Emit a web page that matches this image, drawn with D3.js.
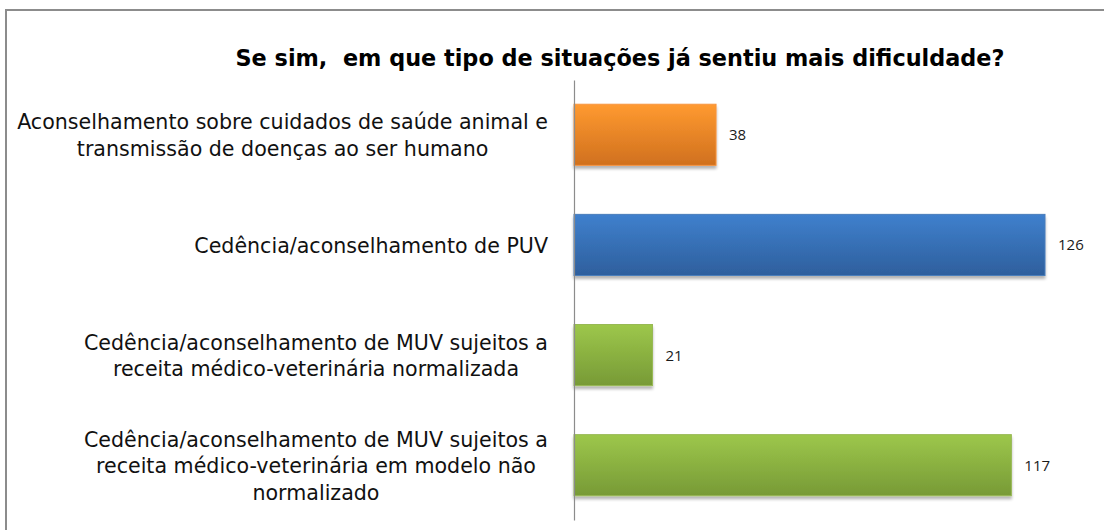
<!DOCTYPE html>
<html><head><meta charset="utf-8">
<script src="https://cdn.jsdelivr.net/npm/d3@7"></script>
<style>
html,body{margin:0;padding:0;background:#fff;}
svg{display:block;}
text{font-family:"DejaVu Sans",sans-serif;}
</style></head>
<body>
<svg id="chart" width="1104" height="530"></svg>
<script>
const titleText = "Se sim,\u00a0 em que tipo de situações já sentiu mais dificuldade?";
const categories = [
  ["Aconselhamento sobre cuidados de saúde animal e", "transmissão de doenças ao ser humano"],
  ["Cedência/aconselhamento de PUV"],
  ["Cedência/aconselhamento de MUV sujeitos a", "receita médico-veterinária normalizada"],
  ["Cedência/aconselhamento de MUV sujeitos a", "receita médico-veterinária em modelo não", "normalizado"]
];
const values = [38, 126, 21, 117];
const colorsTop = ["#FF9A30", "#3F80CD", "#9DC74B"  , "#9DC74B"];
const colorsBot = ["#D0701E", "#2E5F9D", "#779A36", "#779A36"];
const colorsEdge = ["#F7963F", "#4A7EBB", "#98B954", "#98B954"];

const svg = d3.select("#chart");
const W = 1104, H = 530;
const axisX = 574;
const x = d3.scaleLinear().domain([0, 126]).range([axisX, 1045]);
const y = d3.scaleBand().domain(d3.range(values.length)).range([80, 520]).paddingInner(0.445).paddingOuter(0.22);

// frame
svg.append("path").attr("d", `M6,${H+5} L6,10 L${W+5},10`).attr("fill","none").attr("stroke","#8c8c8c").attr("stroke-width",2);

// title
const title = svg.append("text").attr("x", 620).attr("y", 66).attr("text-anchor","middle")
  .attr("font-size", 22).attr("font-weight","bold").attr("fill","#000").text(titleText);
{
  const w = title.node().getComputedTextLength();
  title.attr("font-size", 22 * 769 / w);
}

const defs = svg.append("defs");
values.forEach((v,i)=>{
  const g = defs.append("linearGradient").attr("id","g"+i).attr("x1",0).attr("y1",0).attr("x2",0).attr("y2",1);
  g.append("stop").attr("offset","0%").attr("stop-color",colorsTop[i]);
  g.append("stop").attr("offset","100%").attr("stop-color",colorsBot[i]);
});
const f = defs.append("filter").attr("id","sh").attr("x","-5%").attr("y","-10%").attr("width","110%").attr("height","130%");
f.append("feGaussianBlur").attr("in","SourceAlpha").attr("stdDeviation",1.6);
f.append("feOffset").attr("dx",0).attr("dy",3).attr("result","ob");
f.append("feComponentTransfer").append("feFuncA").attr("type","linear").attr("slope",0.3);
const fm = f.append("feMerge"); fm.append("feMergeNode"); fm.append("feMergeNode").attr("in","SourceGraphic");

// bars
svg.selectAll("rect.bar").data(values).join("rect").attr("class","bar")
  .attr("x", x(0)).attr("y",(d,i)=>y(i)).attr("width",d=>x(d)-x(0)).attr("height",y.bandwidth())
  .attr("fill",(d,i)=>`url(#g${i})`).attr("stroke",(d,i)=>colorsEdge[i]).attr("stroke-width",1)
  .attr("filter","url(#sh)");

// axis line
const yAxis = d3.axisLeft(d3.scaleLinear().range([80,520])).ticks(0).tickSize(0).tickFormat("");
const ag = svg.append("g").attr("transform",`translate(${axisX},0)`).call(yAxis);
ag.select(".domain").attr("stroke","#8c8c8c").attr("stroke-width",1.2);

// value labels
svg.selectAll("text.val").data(values).join("text").attr("class","val")
  .attr("x", d=>x(d)+13).attr("y",(d,i)=>y(i)+y.bandwidth()/2+5.5)
  .style("font-family","'Open Sans','Liberation Sans',sans-serif")
  .attr("font-size",15).attr("fill","#1a1a1a").text(d=>d);

// category labels
const rightEdge = 548, lh = 26.7;
const labelSize = 20.6;
categories.forEach((lines,i)=>{
  const g = svg.append("g");
  const t = g.append("text").attr("font-size",labelSize).attr("fill","#111").attr("text-anchor","middle");
  const cy = y(i)+y.bandwidth()/2;
  const y0 = cy - (lines.length-1)*lh/2 + 8;
  lines.forEach((l,j)=>{
    t.append("tspan").attr("x",0).attr("y",y0+j*lh).text(l);
  });
  let maxW = 0;
  t.selectAll("tspan").each(function(){ maxW = Math.max(maxW, this.getComputedTextLength()); });
  t.selectAll("tspan").attr("x", rightEdge - maxW/2);
});
</script>
</body></html>
